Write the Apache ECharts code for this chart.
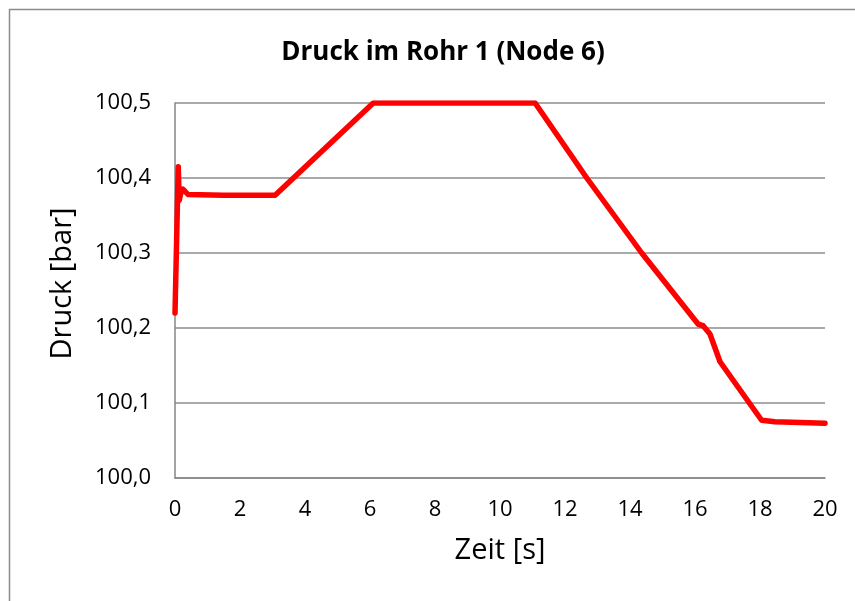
<!DOCTYPE html>
<html>
<head>
<meta charset="utf-8">
<script src="https://cdn.jsdelivr.net/npm/echarts@6/dist/echarts.min.js"></script>
<style>
  html, body { margin: 0; padding: 0; background: #fff; }
  #chart { width: 855px; height: 601px; }
</style>
</head>
<body>
<div id="chart"></div>
<script>
// Zeit [s]
var zeit = [0, 0.1, 0.13, 0.18, 0.25, 0.4, 1.5, 3.08, 6.1, 11.08, 12.67, 14.36, 16.1, 16.25, 16.46, 16.77, 18.05, 18.46, 20]
// Druck [bar]
var druck = [100.22, 100.415, 100.37, 100.38, 100.385, 100.378, 100.377, 100.377, 100.5, 100.5, 100.4, 100.3, 100.205, 100.203, 100.192, 100.155, 100.077, 100.075, 100.073]

var chart = echarts.init(document.getElementById('chart'))
var font = 'Open Sans'

chart.setOption({
  animation: false,
  title: {
    text: 'Druck im Rohr 1 (Node 6)',
    left: 438,
    top: 35,
    textAlign: 'center',
    textStyle: {
      fontFamily: font,
      fontSize: 26,
      fontWeight: 'bold',
      color: '#000'
    }
  },
  graphic: [{
    type: 'rect',
    shape: { x: 9.5, y: 9.5, width: 900, height: 700 },
    style: { fill: 'none', stroke: '#8c8c8c', lineWidth: 1.5 },
    silent: true
  }],
  grid: {
    left: 175,
    right: 30,
    top: 103,
    bottom: 123
  },
  xAxis: {
    type: 'value',
    min: 0,
    max: 20,
    interval: 2,
    name: 'Zeit [s]',
    nameLocation: 'middle',
    nameGap: 58,
    nameTextStyle: { fontFamily: font, fontSize: 29, color: '#000' },
    axisLine: { show: true, lineStyle: { color: '#868686', width: 1.5 } },
    axisTick: { show: false },
    axisLabel: { fontFamily: font, fontSize: 22, color: '#000', margin: 21 },
    splitLine: { show: false }
  },
  yAxis: {
    type: 'value',
    min: 100,
    max: 100.5,
    interval: 0.1,
    name: 'Druck [bar]',
    nameLocation: 'middle',
    nameGap: 98,
    nameTextStyle: { fontFamily: font, fontSize: 29, color: '#000', padding: [0, 0, 0, 14] },
    axisLine: { show: true, lineStyle: { color: '#868686', width: 1.5 } },
    axisTick: { show: false },
    axisLabel: {
      fontFamily: font,
      fontSize: 22,
      color: '#000',
      margin: 24,
      formatter: function (v) { return v.toFixed(1).replace('.', ',') }
    },
    splitLine: { show: true, lineStyle: { color: '#8c8c8c', width: 1.5 } }
  },
  series: [{
    type: 'line',
    data: zeit.map(function (t, i) { return [t, druck[i]] }),
    showSymbol: false,
    lineStyle: { color: '#ff0000', width: 5.5, join: 'round', cap: 'round' }
  }]
})
</script>
</body>
</html>
